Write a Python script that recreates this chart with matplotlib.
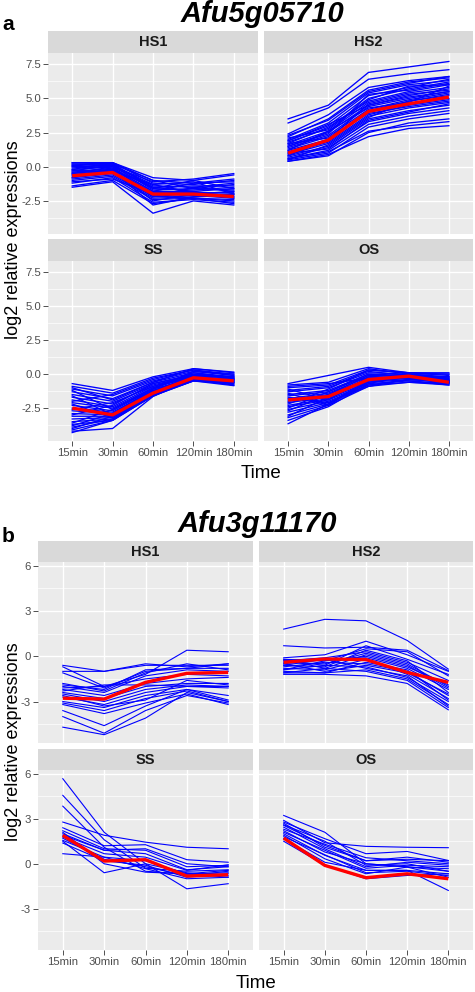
import matplotlib
matplotlib.use("Agg")
import matplotlib.pyplot as plt

# ---------------- data ----------------
times = ["15min", "30min", "60min", "120min", "180min"]

a_title = "Afu5g05710"
b_title = "Afu3g11170"
facets = ["HS1", "HS2", "SS", "OS"]

a_HS1_lines = [
    [0.3, 0.3, -0.8, -1.0, -0.6], [0.2, 0.2, -1.0, -1.2, -0.9], [0.1, 0.3, -1.2, -1.3, -1.0],
    [0.0, 0.1, -1.4, -1.5, -1.2], [-0.1, 0.2, -1.5, -1.4, -1.4], [-0.2, 0.0, -1.6, -1.7, -1.5],
    [-0.3, 0.1, -1.7, -1.6, -1.7], [-0.4, -0.1, -1.8, -1.8, -1.6], [-0.5, -0.2, -1.9, -1.9, -1.9],
    [-0.6, -0.3, -2.0, -2.0, -2.0], [-0.7, -0.4, -2.1, -1.9, -2.2], [-0.8, -0.5, -2.2, -2.1, -2.3],
    [-0.9, -0.6, -2.3, -2.2, -2.1], [-1.0, -0.7, -2.4, -2.3, -2.4], [-1.2, -0.8, -2.6, -2.4, -2.6],
    [-1.4, -1.0, -2.7, -2.3, -2.7], [-1.5, -1.1, -3.4, -2.5, -2.8], [0.1, 0.0, -1.1, -0.9, -0.5],
    [-0.3, -0.2, -2.5, -2.0, -1.8], [0.2, 0.1, -1.3, -1.1, -2.0], [-0.6, -0.2, -1.5, -1.8, -2.2],
    [-0.2, 0.3, -1.0, -1.6, -1.3], [-0.8, -0.3, -2.8, -2.2, -2.0], [0.0, -0.1, -1.8, -1.2, -1.1],
    [-0.5, 0.0, -2.2, -1.5, -1.8], [-1.1, -0.9, -2.0, -2.3, -2.5], [0.3, 0.2, -1.6, -1.0, -1.6],
    [-0.4, -0.3, -1.3, -1.9, -2.3],
]
a_HS1_mean = [-0.66, -0.42, -2.0, -2.0, -2.18]

a_HS2_lines = [
    [3.5, 4.5, 6.9, 7.3, 7.7], [3.2, 4.3, 6.4, 6.8, 7.1], [2.4, 3.8, 5.8, 6.3, 6.6],
    [2.2, 3.5, 5.6, 6.2, 6.5], [2.0, 3.2, 5.4, 6.0, 6.3], [1.9, 3.0, 5.2, 5.8, 6.4],
    [1.8, 2.8, 5.0, 5.7, 6.2], [1.7, 2.9, 4.8, 5.5, 6.0], [1.6, 2.6, 4.7, 5.4, 5.8],
    [1.5, 2.5, 4.5, 5.2, 5.7], [1.4, 2.3, 4.4, 5.0, 5.5], [1.3, 2.2, 4.2, 4.9, 5.4],
    [1.2, 2.0, 4.1, 4.8, 5.2], [1.1, 1.9, 4.0, 4.6, 5.0], [1.0, 1.8, 3.8, 4.5, 4.9],
    [0.9, 1.7, 3.7, 4.3, 4.7], [0.8, 1.5, 3.5, 4.1, 4.5], [0.7, 1.4, 3.3, 3.9, 4.3],
    [0.6, 1.2, 3.1, 3.7, 4.1], [0.5, 1.0, 2.9, 3.5, 3.9], [0.4, 0.8, 2.5, 3.2, 3.5],
    [0.4, 0.9, 2.2, 2.8, 3.0], [0.6, 1.1, 2.6, 3.0, 3.3], [2.1, 2.7, 4.9, 5.9, 6.0],
    [1.5, 2.4, 5.3, 5.6, 6.1], [0.8, 2.0, 4.6, 5.3, 5.6], [1.2, 2.6, 4.3, 4.7, 5.9],
    [1.7, 2.1, 3.9, 4.4, 4.8], [0.5, 1.6, 3.6, 4.8, 5.3], [2.3, 3.4, 5.5, 6.1, 6.6],
    [1.0, 1.3, 3.4, 4.0, 4.6], [1.9, 3.1, 4.5, 5.1, 5.5],
]
a_HS2_mean = [1.0, 1.95, 4.05, 4.6, 5.1]

a_SS_lines = [
    [-0.7, -1.2, -0.2, 0.4, 0.1], [-0.9, -1.4, -0.3, 0.3, 0.0], [-1.1, -1.6, -0.5, 0.2, -0.1],
    [-1.3, -1.8, -0.6, 0.1, -0.2], [-1.5, -2.0, -0.7, 0.0, -0.3], [-1.7, -2.2, -0.8, -0.1, -0.2],
    [-1.9, -2.4, -0.9, -0.2, -0.4], [-2.1, -2.5, -1.0, -0.1, -0.5], [-2.3, -2.7, -1.1, -0.3, -0.4],
    [-2.5, -2.8, -1.2, -0.2, -0.6], [-2.7, -2.9, -1.3, -0.4, -0.5], [-2.9, -3.0, -1.4, -0.3, -0.7],
    [-3.1, -3.1, -1.5, -0.5, -0.6], [-3.3, -3.2, -1.5, -0.4, -0.8], [-3.5, -3.3, -1.6, -0.5, -0.7],
    [-3.7, -3.4, -1.6, -0.3, -0.6], [-3.9, -3.3, -1.5, -0.2, -0.5], [-4.1, -3.4, -1.4, -0.4, -0.8],
    [-4.3, -3.4, -1.6, -0.5, -0.85], [-4.2, -4.0, -1.65, -0.3, -0.4], [-1.2, -2.6, -1.1, 0.1, -0.3],
    [-2.0, -1.5, -0.4, 0.3, -0.1], [-2.6, -2.1, -0.9, 0.0, -0.2], [-3.0, -2.3, -0.7, -0.1, -0.3],
    [-3.6, -2.6, -1.0, -0.2, -0.4], [-1.6, -3.0, -1.2, -0.4, -0.6], [-2.2, -3.2, -1.3, -0.3, -0.5],
    [-3.8, -2.9, -1.1, 0.2, 0.0], [-4.0, -3.1, -1.3, -0.1, -0.3], [-1.0, -1.9, -0.6, 0.4, 0.15],
]
a_SS_mean = [-2.5, -3.0, -1.4, -0.27, -0.5]

a_OS_lines = [
    [-0.7, -0.1, 0.5, 0.1, 0.1], [-0.8, -0.6, 0.4, 0.0, 0.0], [-1.0, -0.8, 0.3, 0.1, -0.1],
    [-1.2, -0.9, 0.2, -0.1, -0.2], [-1.3, -1.0, 0.1, 0.0, -0.3], [-1.5, -1.2, 0.0, -0.2, -0.2],
    [-1.6, -1.3, -0.1, -0.1, -0.4], [-1.8, -1.4, -0.2, -0.3, -0.5], [-1.9, -1.5, -0.3, -0.2, -0.6],
    [-2.0, -1.6, -0.4, -0.1, -0.5], [-2.1, -1.7, -0.5, -0.3, -0.7], [-2.3, -1.8, -0.6, -0.4, -0.6],
    [-2.4, -1.9, -0.7, -0.5, -0.8], [-2.6, -2.0, -0.8, -0.6, -0.7], [-2.8, -2.1, -0.9, -0.4, -0.5],
    [-3.0, -2.2, -0.6, -0.2, -0.4], [-3.2, -2.3, -0.5, -0.3, -0.6], [-3.4, -2.4, -0.7, -0.1, -0.3],
    [-3.65, -2.2, -0.4, -0.2, -0.5], [-1.1, -1.9, -0.2, 0.0, -0.2], [-1.4, -2.3, -0.9, -0.6, -0.8],
    [-2.2, -1.1, 0.3, 0.1, 0.0], [-2.7, -1.5, -0.1, -0.2, -0.3], [-0.9, -0.7, -0.3, -0.5, -0.7],
    [-1.7, -2.1, -0.8, -0.4, -0.6], [-2.5, -1.3, 0.0, -0.1, -0.4], [-3.1, -1.7, -0.3, -0.3, -0.5],
]
a_OS_mean = [-1.9, -1.65, -0.4, -0.15, -0.6]

b_HS1_lines = [
    [-0.6, -1.0, -0.5, -0.7, -0.5], [-1.0, -1.0, -0.6, -0.6, -0.6], [-0.7, -2.0, -1.2, 0.4, 0.3],
    [-1.9, -2.2, -0.9, -0.8, -0.8], [-2.0, -2.4, -1.3, -0.9, -1.0], [-2.1, -2.0, -1.5, -1.2, -1.3],
    [-2.2, -2.6, -1.8, -1.5, -1.4], [-2.4, -2.8, -2.0, -1.8, -1.8], [-2.5, -3.0, -2.2, -1.9, -2.0],
    [-2.7, -3.2, -2.4, -2.0, -2.1], [-3.0, -3.4, -2.6, -2.2, -2.9], [-3.1, -3.6, -2.8, -2.3, -3.0],
    [-3.2, -3.8, -3.1, -2.5, -3.2], [-3.6, -4.6, -3.3, -2.2, -2.6], [-4.7, -5.2, -4.1, -2.4, -3.0],
    [-1.8, -2.3, -1.1, -0.5, -0.9], [-2.3, -1.9, -1.9, -2.0, -2.0], [-2.6, -3.3, -2.9, -1.6, -1.9],
    [-1.1, -2.1, -1.0, -0.8, -0.5], [-4.0, -5.1, -3.6, -2.6, -3.1],
]
b_HS1_mean = [-2.78, -2.84, -1.73, -1.13, -1.07]

b_HS2_lines = [
    [1.8, 2.45, 2.35, 1.05, -0.85], [0.7, 0.55, 0.6, 0.4, -0.95], [-0.1, 0.1, 1.0, 0.1, -1.0],
    [-0.2, -0.3, 0.5, 0.3, -1.3], [-0.3, -0.1, 0.3, -0.4, -1.6], [-0.4, -0.5, 0.2, -0.5, -2.0],
    [-0.5, -0.2, -0.1, -0.8, -2.2], [-0.6, -0.7, 0.4, -0.3, -2.4], [-0.7, -0.4, -0.5, -1.0, -2.6],
    [-0.8, -0.9, -0.2, -1.2, -2.8], [-0.9, -0.6, -0.7, -1.4, -3.0], [-1.0, -1.1, -0.9, -1.5, -3.2],
    [-1.1, -0.8, -1.0, -1.6, -3.4], [-1.2, -1.2, -1.3, -1.8, -3.55], [-0.3, -0.6, 0.7, -0.2, -1.2],
    [-0.5, -1.0, -0.6, -1.1, -2.5], [-0.9, -0.3, 0.0, -0.7, -1.9], [-1.1, -1.1, -0.4, -0.9, -2.9],
    [-0.6, -0.2, -0.8, -1.3, -3.3], [-0.2, -0.8, 0.1, -0.6, -2.1],
]
b_HS2_mean = [-0.4, -0.18, -0.22, -1.07, -1.73]

b_SS_lines = [
    [5.67, 2.1, 0.0, -0.6, -0.8], [4.56, 1.6, -0.3, -0.5, -0.4], [3.84, 1.1, -0.5, -0.7, -0.6],
    [2.78, 1.9, 1.44, 1.1, 1.0], [2.4, 1.2, 1.27, 0.27, 0.1], [2.2, 1.0, 0.9, -0.2, -0.1],
    [2.0, 0.9, 0.67, -0.4, -0.2], [1.78, 0.67, 0.44, -0.44, -0.07], [1.56, 0.44, 0.2, -0.67, -0.44],
    [1.38, 0.2, -0.1, -0.9, -0.67], [0.67, 0.44, -0.33, -1.0, -0.9], [1.5, -0.6, 0.0, -1.67, -1.33],
    [2.1, 0.0, -0.56, -0.67, -0.9], [1.9, 0.9, 1.0, 0.0, -0.2], [1.7, 0.3, -0.2, -0.8, -0.5],
]
b_SS_mean = [1.89, 0.18, 0.27, -0.82, -0.73]

b_OS_lines = [
    [3.22, 2.1, 0.0, -0.2, -0.5], [2.89, 1.4, 1.16, 1.1, 1.07], [2.78, 1.67, 0.67, 0.82, 0.22],
    [2.56, 1.22, 0.2, 0.44, 0.1], [2.44, 1.0, -0.2, 0.1, -0.1], [2.2, 0.78, 0.0, -0.22, -0.33],
    [2.0, 0.56, -0.44, -0.44, -0.67], [1.9, 0.33, -0.67, -0.22, -0.9], [1.67, 0.1, -0.44, -0.44, -1.78],
    [1.5, -0.1, -1.0, -0.78, -0.67], [2.3, 1.3, 0.4, 0.2, 0.0], [2.6, 1.5, -0.1, 0.0, -0.5],
    [2.1, 0.9, -0.3, -0.1, -0.2], [1.8, 0.6, -0.6, -0.5, -0.8], [2.7, 1.1, 0.2, 0.3, 0.2],
]
b_OS_mean = [1.71, -0.11, -0.93, -0.67, -1.0]

a_yticks = [-2.5, 0.0, 2.5, 5.0, 7.5]
a_yticklabels = ["-2.5", "0.0", "2.5", "5.0", "7.5"]
b_yticks = [-3, 0, 3, 6]
b_yticklabels = ["-3", "0", "3", "6"]

# ---------------- drawing ----------------
W, H = 475, 992
plt.rcParams['font.family'] = ['Liberation Sans', 'DejaVu Sans']
fig = plt.figure(figsize=(W / 100, H / 100), dpi=100)
fig.patch.set_facecolor('white')


def rect(x0, y0, x1, y1):
    return [x0 / W, 1 - y1 / H, (x1 - x0) / W, (y1 - y0) / H]


def panel(x0, x1, ys0, ys1, yp1, label, lines, mean, ylim, yticks, yticklabels,
          show_y, show_x, blue_lw):
    ax = fig.add_axes(rect(x0, ys1, x1, yp1))
    ax.set_facecolor('#EBEBEB')
    xs = list(range(len(times)))
    minor = [(yticks[i] + yticks[i + 1]) / 2 for i in range(len(yticks) - 1)]
    step = yticks[1] - yticks[0]
    minor = [yticks[0] - step / 2] + minor + [yticks[-1] + step / 2]
    for y in minor:
        ax.axhline(y, color='white', lw=0.5, zorder=0.5)
    for y in yticks:
        ax.axhline(y, color='white', lw=1.0, zorder=0.6)
    for x in xs:
        ax.axvline(x, color='white', lw=1.0, zorder=0.6)
    for ln in lines:
        ax.plot(xs, ln, color='#0000FF', lw=blue_lw, zorder=2)
    ax.plot(xs, mean, color='#FF0000', lw=2.4, zorder=3, solid_capstyle='butt')
    ax.set_xlim(-0.6, len(times) - 1 + 0.6)
    ax.set_ylim(*ylim)
    for s in ax.spines.values():
        s.set_visible(False)
    ax.set_xticks(xs)
    ax.set_yticks(yticks)
    ax.tick_params(colors='#333333', length=3.5, width=0.6, pad=1.5)
    if show_x:
        ax.set_xticklabels(times, fontsize=8.2, color='#4D4D4D')
    else:
        ax.tick_params(axis='x', bottom=False, labelbottom=False)
    if show_y:
        ax.set_yticklabels(yticklabels, fontsize=8.2, color='#4D4D4D')
    else:
        ax.tick_params(axis='y', left=False, labelleft=False)
    sax = fig.add_axes(rect(x0, ys0, x1, ys1))
    sax.set_facecolor('#D9D9D9')
    sax.set_xticks([])
    sax.set_yticks([])
    for s in sax.spines.values():
        s.set_visible(False)
    sax.text(0.5, 0.48, label, ha='center', va='center', fontsize=10.5, fontweight='bold',
             color='#1A1A1A', transform=sax.transAxes)
    return ax


a_ylim = (-4.92, 8.32)
b_ylim = (-5.75, 6.25)

# panel a
panel(48, 258, 31, 53, 234, facets[0], a_HS1_lines, a_HS1_mean, a_ylim, a_yticks, a_yticklabels, True, False, 0.95)
panel(264, 473, 31, 53, 234, facets[1], a_HS2_lines, a_HS2_mean, a_ylim, a_yticks, a_yticklabels, False, False, 0.95)
panel(48, 258, 239, 261, 441, facets[2], a_SS_lines, a_SS_mean, a_ylim, a_yticks, a_yticklabels, True, True, 0.95)
panel(264, 473, 239, 261, 441, facets[3], a_OS_lines, a_OS_mean, a_ylim, a_yticks, a_yticklabels, False, True, 0.95)

# panel b
panel(38, 253, 541, 562, 743, facets[0], b_HS1_lines, b_HS1_mean, b_ylim, b_yticks, b_yticklabels, True, False, 0.8)
panel(259, 473, 541, 562, 743, facets[1], b_HS2_lines, b_HS2_mean, b_ylim, b_yticks, b_yticklabels, False, False, 0.8)
panel(38, 253, 749, 770, 950, facets[2], b_SS_lines, b_SS_mean, b_ylim, b_yticks, b_yticklabels, True, True, 0.8)
panel(259, 473, 749, 770, 950, facets[3], b_OS_lines, b_OS_mean, b_ylim, b_yticks, b_yticklabels, False, True, 0.8)


def ftext(x, y, s, **kw):
    fig.text(x / W, 1 - y / H, s, **kw)


ftext(2, 30, "a", fontsize=15, fontweight='bold', ha='left', va='baseline')
ftext(2, 542, "b", fontsize=15, fontweight='bold', ha='left', va='baseline')
ftext(262, 22, a_title, fontsize=21, fontweight='bold', fontstyle='italic', ha='center', va='baseline')
ftext(257, 532, b_title, fontsize=21, fontweight='bold', fontstyle='italic', ha='center', va='baseline')
ftext(261, 473, "Time", fontsize=13.5, ha='center', va='center')
ftext(256, 983, "Time", fontsize=13.5, ha='center', va='center')
ftext(14, 240, "log2 relative expressions", fontsize=13, rotation=90, ha='center', va='center')
ftext(14, 742, "log2 relative expressions", fontsize=13, rotation=90, ha='center', va='center')

fig.savefig("out.png", dpi=100)
